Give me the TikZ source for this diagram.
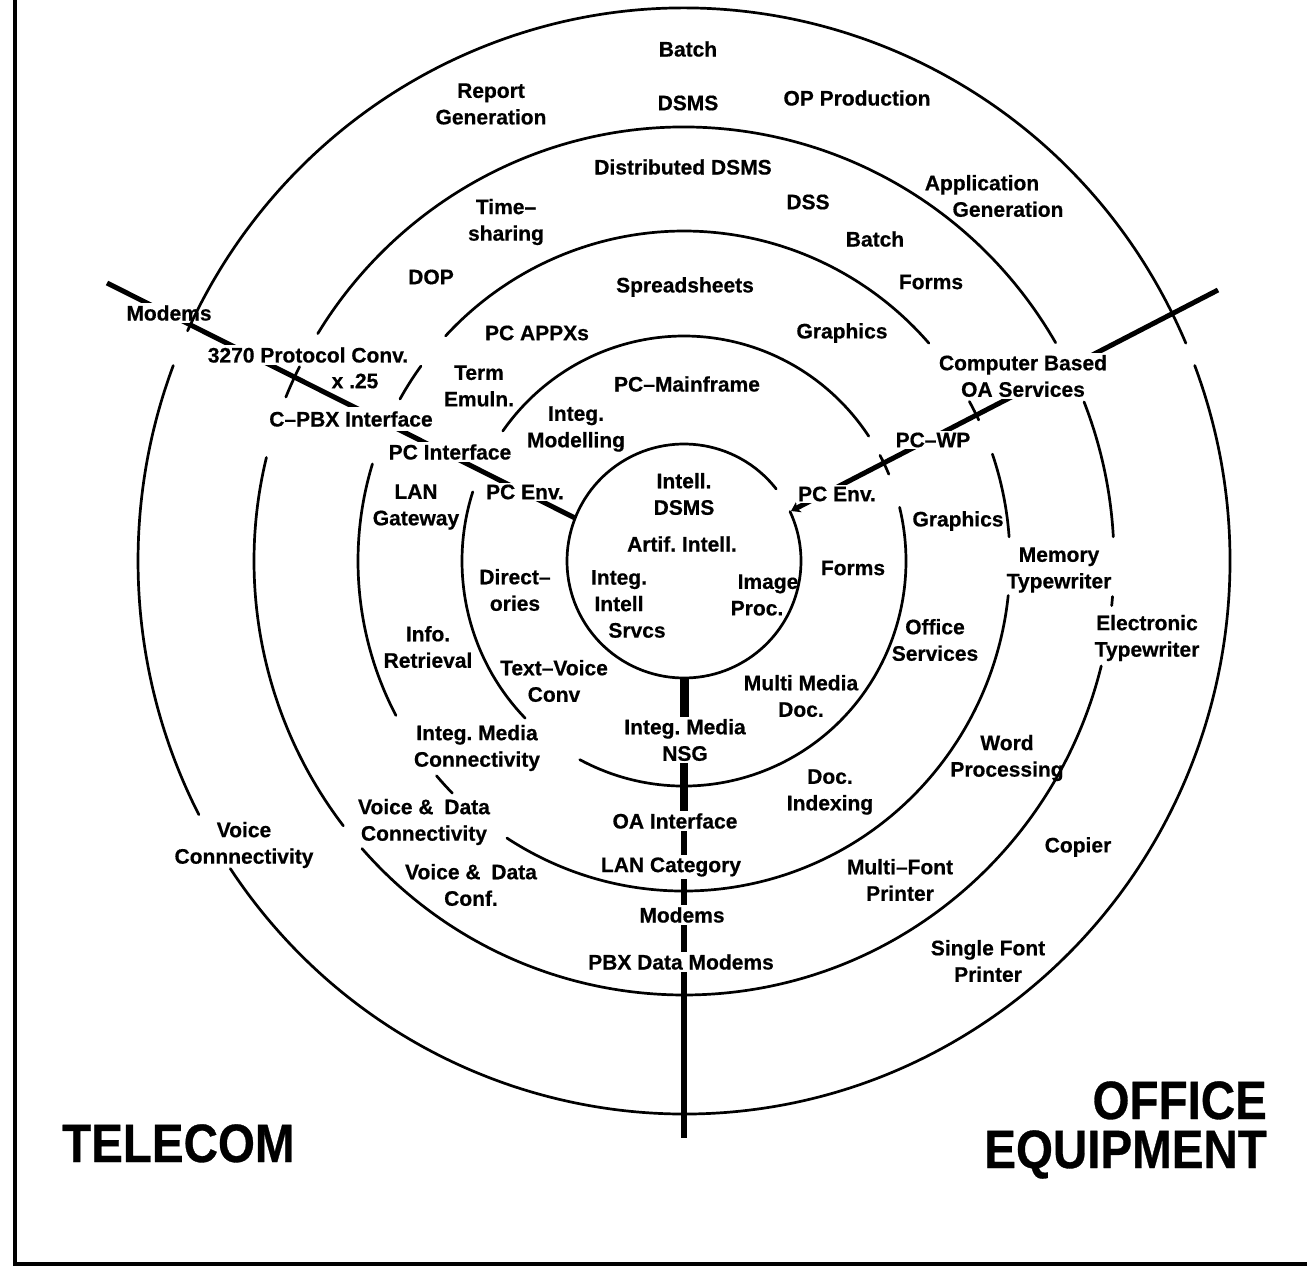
\documentclass[tikz,border=0pt]{standalone}
\usepackage{fontspec}
\usepackage{graphicx}
\setmainfont{Liberation Sans}[BoldFeatures={FakeBold=0.6}]
\usetikzlibrary{arrows.meta}
\pgfdeclarelayer{bg}
\pgfsetlayers{bg,main}
\newcommand\lblf{\fontsize{21}{26.5}\selectfont\bfseries\frenchspacing}
\newcommand\bigf{\fontsize{54}{60}\selectfont\bfseries}
\newcommand\ringarc[4]{%
  \pgfmathsetmacro\ringsa{-(#3)}%
  \pgfmathsetmacro\ringea{-(#4)}%
  \draw[ring] (ctr) ++(\ringsa:#1 and #2) arc[start angle=\ringsa, end angle=\ringea, x radius=#1, y radius=#2];}
\begin{document}
\frenchspacing
\begin{tikzpicture}[x=1pt,y=-1pt,
  lbl/.style={font=\lblf, align=center, inner sep=1pt},
  wl/.style={font=\lblf, align=center, fill=white, inner sep=2pt},
  big/.style={font=\bigf, inner sep=0pt},
  ring/.style={line width=2.7pt, line cap=round},
  spokeL/.style={line width=5pt},
  spokeR/.style={line width=5pt},
  spokeB/.style={line width=6pt}]
\useasboundingbox (0,0) rectangle (1307,1268);
\coordinate (ctr) at (684,561);

% frame
\draw[line width=3.2pt] (15,0) -- (15,1264) -- (1307,1264);

% ---- labels ----
\node[lbl] (batchT) at (688,49) {Batch};
\node[lbl] (repgen) at (491,104) {Report\\Generation};
\node[lbl] (dsmsT) at (688,103) {DSMS};
\node[lbl] (opprod) at (857,98) {OP Production};
\node[lbl] (appgen) at (982,196) {Application\\\hspace*{52pt}Generation};
\node[lbl] (distdsms) at (683,167) {Distributed DSMS};
\node[lbl] (timeshare) at (506,222) {Time–\\sharing};
\node[lbl] (dss) at (808,202) {DSS};
\node[lbl] (batchM) at (875,239) {Batch};
\node[lbl] (dop) at (431,277) {DOP};
\node[lbl] (formsT) at (931,282) {Forms};
\node[lbl] (spread) at (685,287) {Spreadsheets};
\node[lbl] (pcappx) at (537,333) {PC APPXs};
\node[lbl] (graphT) at (842,333) {Graphics};
\node[lbl] (term) at (479,386) {Term\\Emuln.};
\node[lbl] (pcmain) at (687,384) {PC–Mainframe};
\node[lbl] (intmod) at (576,429) {Integ.\\Modelling};
\node[wl] (cbased) at (1023,376) {Computer Based\\OA Services};
\node[wl] (pcwp) at (933,440) {PC–WP};
\node[wl] (pcenvR) at (837,494) {PC Env.};
\node[wl] (pcenvL) at (525,492) {PC Env.};
\node[wl] (pcint) at (450,452) {PC Interface};
\node[wl, inner ysep=4pt] (cpbx) at (351,419) {C–PBX Interface};
\node[wl] (p3270) at (308,355) {3270 Protocol Conv.};
\node[lbl] (x25) at (355,381) {x .25};
\node[wl] (modemL) at (169,313) {Modems};
\node[lbl] (langate) at (416,507) {LAN\\Gateway};
\node[lbl] (graphR) at (958,521) {Graphics};
\node[lbl] (memtype) at (1059,570) {Memory\\Typewriter};
\node[lbl] (inteldsms) at (684,494) {Intell.\\DSMS};
\node[lbl] (artif) at (682,544) {Artif. Intell.};
\node[lbl] (intintel) at (619,604) {Integ.\\Intell\\\hspace*{36pt}Srvcs};
\node[lbl] (imgproc) at (757,595) {\hspace*{22pt}Image\\Proc.};
\node[lbl] (direct) at (515,590) {Direct–\\ories};
\node[lbl] (formsM) at (853,568) {Forms};
\node[lbl] (textvoice) at (554,681) {Text–Voice\\Conv};
\node[lbl] (infor) at (428,647) {Info.\\Retrieval};
\node[lbl] (offsvc) at (935,640) {Office\\Services};
\node[lbl] (multimedia) at (801,696) {Multi Media\\Doc.};
\node[wl] (nsg) at (685,740) {Integ. Media\\NSG};
\node[lbl] (imconn) at (477,748) {Integ. Media\\Connectivity};
\node[lbl] (docidx) at (830,792) {Doc.\\Indexing};
\node[wl] (oaif) at (675,821) {OA Interface};
\node[wl] (lancat) at (671,867) {LAN Category};
\node[wl] (modemB) at (682,915) {Modems};
\node[wl] (pbx) at (681,962) {PBX Data Modems};
\node[lbl] (vdconn) at (424,822) {Voice \&\hspace{5pt} Data\\Connectivity};
\node[lbl] (vdconf) at (471,885) {Voice \&\hspace{5pt} Data\\Conf.};
\node[lbl] (voiceconn) at (244,845) {Voice\\Connnectivity};
\node[lbl] (wordproc) at (1007,758) {Word\\Processing};
\node[lbl] (multifont) at (900,880) {Multi–Font\\Printer};
\node[lbl] (copier) at (1078,847) {Copier};
\node[lbl] (singlefont) at (988,961) {Single Font\\Printer};
\node[lbl] (electype) at (1147,638) {Electronic\\Typewriter};

\node[big, anchor=base west] (telecom) at (62,1162) {\scalebox{0.88}[1]{TELECOM}};
\node[big, anchor=base east] (office) at (1267,1119) {\scalebox{0.88}[1]{OFFICE}};
\node[big, anchor=base east] (equip) at (1267,1168) {\scalebox{0.88}[1]{EQUIPMENT}};

% ---- spokes (behind labels) ----
\coordinate (spL) at (107,283);
\coordinate (spR) at (1218,290);
\coordinate (spB) at (684,1138);
\coordinate (c1L) at (575,518);
\coordinate (c1R) at (791,511);
\coordinate (c1B) at (684,677);
\begin{pgfonlayer}{bg}
\draw[spokeL] (spL) -- (c1L);
\draw[spokeR, -{Stealth[length=9pt,width=12pt]}] (spR) -- (c1R);
\draw[spokeB] (c1B) -- (spB);
\draw[line width=9pt] (c1B) -- (nsg.north -| c1B);
\draw[line width=7.5pt] (nsg.south -| c1B) -- (oaif.north -| c1B);
\end{pgfonlayer}

% ---- rings (broken arcs) ----
% ring 1
\ringarc{117}{117}{38}{385}
% ring 2
\ringarc{222}{225}{33.7}{144.7}
\ringarc{222}{225}{162.1}{224.3}
\ringarc{222}{225}{242}{373.8}
\ringarc{222}{225}{22.7}{28}
% ring 3
\ringarc{326}{330}{41.3}{137}
\ringarc{326}{330}{143.8}{150.6}
\ringarc{326}{330}{162.9}{207.9}
\ringarc{326}{330}{220.6}{224.7}
\ringarc{326}{330}{237.1}{354}
\ringarc{326}{330}{4.2}{18.9}
\ringarc{326}{330}{25.3}{28.9}
% ring 4
\ringarc{430}{434}{30.2}{148.4}
\ringarc{430}{434}{153.4}{157.8}
\ringarc{430}{434}{166.2}{217.6}
\ringarc{430}{434}{221.5}{346}
\ringarc{430}{434}{354.1}{355.3}
\ringarc{430}{434}{3.2}{21.5}
% ring 5
\ringarc{546}{553}{23.2}{155.4}
\ringarc{546}{553}{159.3}{207.3}
\ringarc{546}{553}{213.8}{380.7}
\end{tikzpicture}
\end{document}
